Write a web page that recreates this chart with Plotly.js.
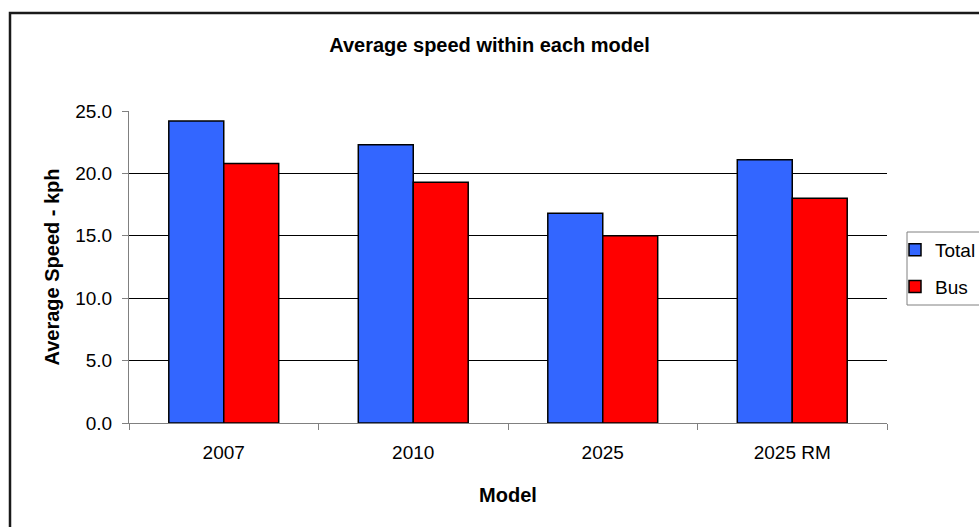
<!DOCTYPE html>
<html>
<head>
<meta charset="utf-8">
<script src="https://cdn.plot.ly/plotly-3.0.1.min.js"></script>
<style>
  html, body { margin: 0; padding: 0; background: #ffffff; }
  #chart { width: 979px; height: 527px; }
</style>
</head>
<body>
<div id="chart"></div>
<script>
// Average speed per model run, in kph
const models = ['2007', '2010', '2025', '2025 RM'];
const totalSpeed = [24.2, 22.3, 16.8, 21.1];
const busSpeed = [20.8, 19.3, 15.0, 18.0];
const seriesNames = ['Total', 'Bus'];
const yTicks = [0, 5, 10, 15, 20, 25];

const FONT = 'Liberation Sans, Arial, sans-serif';
const W = 979, H = 527;
const M = { l: 129, r: 92, t: 111, b: 104 };
const plotW = W - M.l - M.r;
const plotH = H - M.t - M.b;

// page pixel -> paper fraction helpers for the frame and legend box
const px = x => (x - M.l) / plotW;
const py = y => (H - M.b - y) / plotH;

const traces = [
  {
    type: 'bar',
    name: seriesNames[0],
    legendgroup: 'total',
    x: models,
    y: totalSpeed,
    marker: { color: '#3366FF', line: { color: '#000000', width: 1.5 } },
    hoverinfo: 'x+y+name'
  },
  {
    type: 'bar',
    name: seriesNames[1],
    legendgroup: 'bus',
    x: models,
    y: busSpeed,
    marker: { color: '#FF0000', line: { color: '#000000', width: 1.5 } },
    hoverinfo: 'x+y+name'
  }
];

const layout = {
  width: W,
  height: H,
  paper_bgcolor: '#ffffff',
  plot_bgcolor: '#ffffff',
  margin: { l: M.l, r: M.r, t: M.t, b: M.b, pad: 0 },
  font: { family: FONT, color: '#000000', size: 19 },
  title: {
    text: '<b>Average speed within each model</b>',
    font: { family: FONT, size: 20, color: '#000000' },
    x: 0.5, xref: 'container', xanchor: 'center',
    y: 1 - 45 / H, yref: 'container', yanchor: 'middle'
  },
  barmode: 'group',
  bargap: 0.42,
  bargroupgap: 0,
  showlegend: true,
  legend: {
    xref: 'container', yref: 'container',
    x: 895 / W, xanchor: 'left',
    y: 1 - 231 / H, yanchor: 'top',
    bgcolor: 'rgba(0,0,0,0)',
    borderwidth: 0,
    font: { family: FONT, size: 19, color: '#000000' },
    traceorder: 'grouped',
    tracegroupgap: 9
  },
  xaxis: {
    type: 'category',
    categoryorder: 'array',
    categoryarray: models,
    showgrid: false,
    showline: true,
    linecolor: '#808080',
    linewidth: 1,
    ticks: 'outside',
    tickson: 'boundaries',
    ticklen: 6,
    tickcolor: '#808080',
    ticklabelstandoff: 12,
    tickfont: { family: FONT, size: 19, color: '#000000' },
    title: {
      text: '<b>Model</b>',
      font: { family: FONT, size: 20, color: '#000000' },
      standoff: 26
    },
    fixedrange: true
  },
  yaxis: {
    range: [0, 25],
    tickvals: yTicks,
    ticktext: yTicks.map(v => v.toFixed(1)),
    showgrid: true,
    gridcolor: '#000000',
    gridwidth: 1,
    zeroline: false,
    showline: true,
    linecolor: '#808080',
    linewidth: 1,
    ticks: 'outside',
    ticklen: 6,
    tickcolor: '#808080',
    ticklabelstandoff: 6,
    tickfont: { family: FONT, size: 19, color: '#000000' },
    title: {
      text: '<b>Average Speed - kph</b>',
      font: { family: FONT, size: 20, color: '#000000' },
      standoff: 10
    },
    fixedrange: true
  },
  shapes: [
    {
      // chart frame; right and bottom edges run off the page
      type: 'rect', xref: 'paper', yref: 'paper',
      x0: px(10), x1: px(W + 20),
      y0: py(H + 20), y1: py(13),
      line: { color: '#1a1a1a', width: 2.5 },
      fillcolor: 'rgba(0,0,0,0)',
      layer: 'below'
    },
    {
      // legend box
      type: 'rect', xref: 'paper', yref: 'paper',
      x0: px(907), x1: px(W + 20),
      y0: py(305), y1: py(232),
      line: { color: '#808080', width: 1 },
      fillcolor: 'rgba(0,0,0,0)',
      layer: 'above'
    }
  ]
};

Plotly.newPlot('chart', traces, layout, { displayModeBar: false, staticPlot: true });
</script>
</body>
</html>
